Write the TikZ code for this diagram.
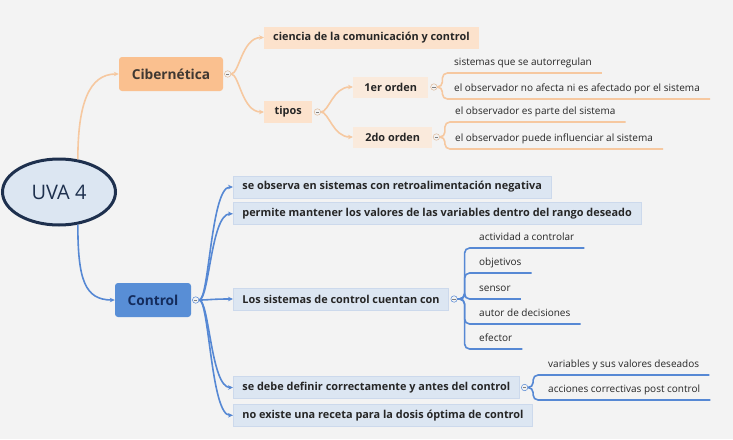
\documentclass[tikz,border=0pt]{standalone}
\usepackage{fontspec}
\setmainfont{Open Sans}
\usetikzlibrary{shapes.geometric, arrows.meta, positioning, calc}
\definecolor{bgcolor}{RGB}{243, 243, 243}
\definecolor{rootfill}{RGB}{220, 230, 242}
\definecolor{rootline}{RGB}{30, 48, 78}
\definecolor{cibfill}{RGB}{250, 192, 143}
\definecolor{cibsub}{RGB}{252, 226, 204}
\definecolor{cibpale}{RGB}{250, 234, 220}
\definecolor{cibline}{RGB}{246, 200, 160}
\definecolor{cibtext}{RGB}{64, 56, 50}
\definecolor{ctrlfill}{RGB}{88, 142, 214}
\definecolor{ctrltext}{RGB}{20, 44, 92}
\definecolor{ctrlsub}{RGB}{220, 230, 242}
\definecolor{ctrlborder}{RGB}{204, 217, 236}
\definecolor{ctrlline}{RGB}{86, 136, 212}
\definecolor{textdark}{RGB}{38, 38, 38}

\begin{document}
\begin{tikzpicture}[
    x=1pt, y=-1pt,
    root/.style={ellipse, draw=rootline, line width=3pt, fill=rootfill, minimum width=113pt, minimum height=66pt, font=\fontsize{20}{22}\selectfont, text=rootline},
    mainbox/.style={rectangle, rounded corners=3pt, minimum height=34pt, inner xsep=10pt, font=\fontsize{13.7}{15}\selectfont\bfseries},
    subbox/.style={rectangle, minimum height=22pt, inner xsep=9pt, font=\fontsize{10.9}{12}\selectfont\bfseries, text=textdark},
    ctrlbox/.style={subbox, fill=ctrlsub, draw=ctrlborder, line width=0.8pt},
    leaf/.style={anchor=south west, inner xsep=0pt, inner ysep=5pt, text height=7pt, text depth=2.5pt, font=\fontsize{10}{11}\selectfont, text=textdark},
    knob/.style={circle, draw, fill=bgcolor, minimum size=6.5pt, inner sep=0pt, line width=0.5pt,
        path picture={\draw[gray, line width=0.4pt] ([xshift=-1.6pt]path picture bounding box.center) -- ([xshift=1.6pt]path picture bounding box.center);}},
    arrow/.style={-{Stealth[length=5pt, width=4.5pt]}, line width=1.6pt},
    leafline/.style={line width=1.6pt, rounded corners=5pt},
]

% ============ BACKGROUND ============
\fill[bgcolor] (0,0) rectangle (733,439);
\useasboundingbox (0,0) rectangle (733,439);

% ============ ROOT AND MAIN TOPICS ============
\node[root] (uva) at (59,192) {UVA 4};
\node[mainbox, fill=cibfill, text=cibtext, minimum width=104pt] (cib) at (171,74) {Cibernética};
\node[mainbox, fill=ctrlfill, text=ctrltext, minimum width=76pt] (ctrl) at (153,300) {Control};

\node[knob, draw=cibline!80!gray, right=1pt of cib] (cibk) {};
\node[knob, draw=ctrlline, right=1pt of ctrl] (ctrlk) {};

% ============ CIBERNETICA BRANCH ============
\node[subbox, fill=cibsub, anchor=west] (ciencia) at (264,37.5) {ciencia de la comunicación y control};
\node[subbox, fill=cibsub, anchor=west, minimum width=48pt] (tipos) at (264,112) {tipos};
\node[knob, draw=cibline!80!gray, right=1.5pt of tipos] (tiposk) {};

\node[subbox, fill=cibpale, anchor=west, minimum height=21pt, minimum width=75pt] (orden1) at (353,87) {1er orden};
\node[subbox, fill=cibpale, anchor=west, minimum height=21pt, minimum width=79pt] (orden2) at (353,137) {2do orden};
\node[knob, draw=cibline!80!gray, right=2pt of orden1] (orden1k) {};
\node[knob, draw=cibline!80!gray, right=0.5pt of orden2] (orden2k) {};

% leaves of 1er / 2do orden
\node[leaf] (autorreg) at (454,73) {sistemas que se autorregulan};
\node[leaf] (noafecta) at (454,99) {el observador no afecta ni es afectado por el sistema};
\node[leaf] (esparte) at (455,122) {el observador es parte del sistema};
\node[leaf] (influye) at (455,149) {el observador puede influenciar al sistema};

% ============ CONTROL BRANCH ============
\node[ctrlbox, anchor=west] (observa) at (233,187) {se observa en sistemas con retroalimentación negativa};
\node[ctrlbox, below right=4pt and 0pt of observa.south west] (mantener) {permite mantener los valores de las variables dentro del rango deseado};
\node[ctrlbox, anchor=west] (cuentan) at (233,299) {Los sistemas de control cuentan con};
\node[ctrlbox, anchor=west] (definir) at (233,387.5) {se debe definir correctamente y antes del control};
\node[ctrlbox, below right=5pt and 0pt of definir.south west] (receta) {no existe una receta para la dosis óptima de control};

\node[knob, draw=ctrlline, right=1.5pt of cuentan] (cuentank) {};
\node[knob, draw=ctrlline, right=1.5pt of definir] (definirk) {};

% leaves of control
\node[leaf] (actividad) at (479,248) {actividad a controlar};
\node[leaf] (objetivos) at (479,273) {objetivos};
\node[leaf] (sensor) at (479,299) {sensor};
\node[leaf] (autor) at (479,324) {autor de decisiones};
\node[leaf] (efector) at (479,349) {efector};
\node[leaf] (variables) at (548,375) {variables y sus valores deseados};
\node[leaf] (acciones) at (548,400) {acciones correctivas post control};

% ============ CONNECTORS ============
\draw[arrow, cibline] (uva.60) .. controls +(0,-55) and +(-30,0) .. (cib.west);
\draw[arrow, ctrlline] (uva.-60) .. controls +(0,55) and +(-30,0) .. (ctrl.west);

\foreach \t in {ciencia, tipos}
    \draw[arrow, cibline] (cibk.east) .. controls +(8,0) and +(-22,0) .. (\t.west);
\foreach \t in {orden1, orden2}
    \draw[arrow, cibline] (tiposk.east) .. controls +(8,0) and +(-20,0) .. (\t.west);
\foreach \t in {observa, mantener, cuentan, definir, receta}
    \draw[arrow, ctrlline] (ctrlk.east) .. controls +(10,0) and +(-22,0) .. (\t.west);

% underline leaves
\foreach \t in {autorreg, noafecta}
    \draw[leafline, cibline] (orden1k.east) -- ++(5,0) |- ($(\t.south east)+(10,0)$);
\foreach \t in {esparte, influye}
    \draw[leafline, cibline] (orden2k.east) -- ++(5,0) |- ($(\t.south east)+(10,0)$);
\foreach \t in {actividad, objetivos, sensor, autor, efector}
    \draw[leafline, ctrlline] (cuentank.east) -- ++(7,0) |- ($(\t.south east)+(10,0)$);
\foreach \t in {variables, acciones}
    \draw[leafline, ctrlline] (definirk.east) -- ++(5,0) |- ($(\t.south east)+(10,0)$);

\end{tikzpicture}
\end{document}
